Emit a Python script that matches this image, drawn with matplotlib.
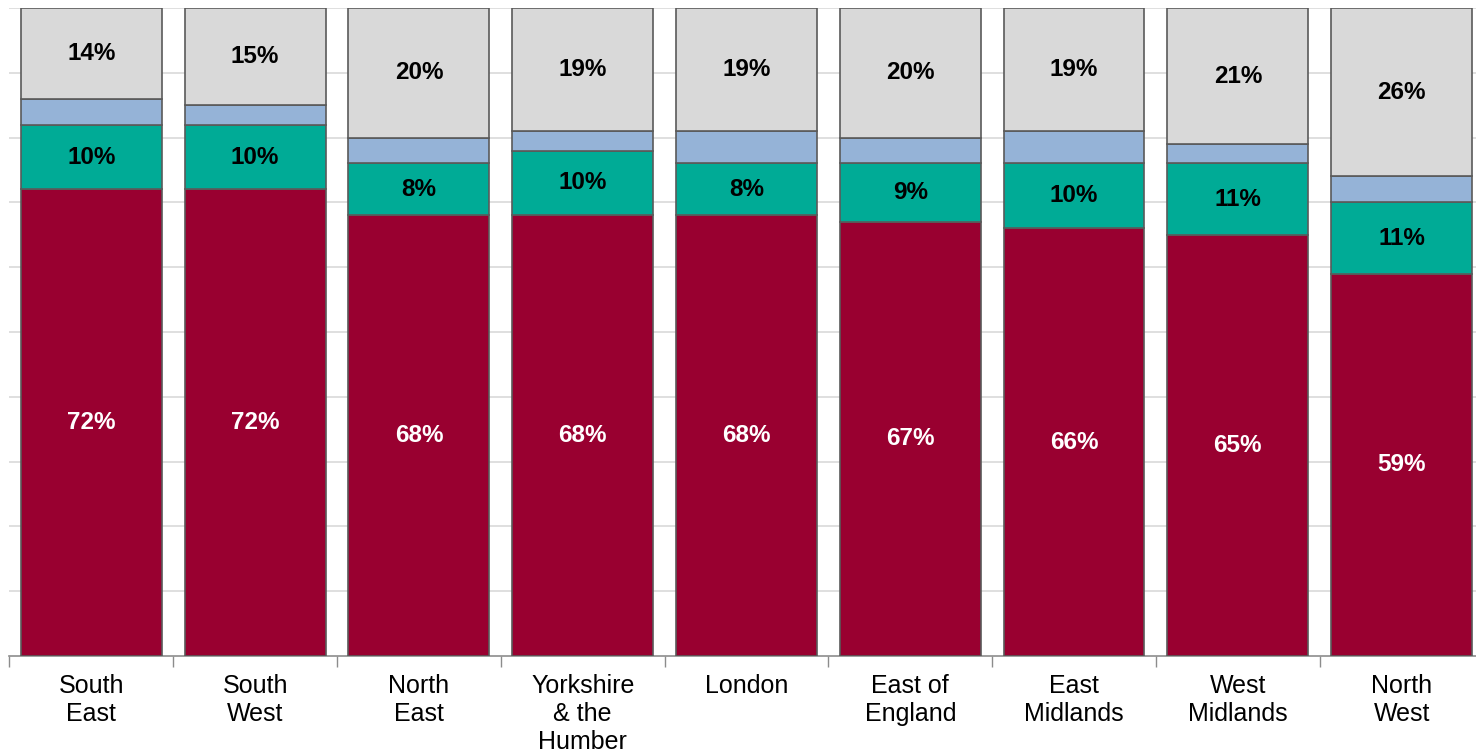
import matplotlib.pyplot as plt
from matplotlib import font_manager
import numpy as np

# keep the regular-width Liberation Sans (drop the Narrow faces so they are never picked)
font_manager.fontManager.ttflist = [f for f in font_manager.fontManager.ttflist
                                    if 'Narrow' not in f.fname]
plt.rcParams['font.family'] = ['Liberation Sans', 'DejaVu Sans']

regions = ['South\nEast', 'South\nWest', 'North\nEast', 'Yorkshire\n& the\nHumber', 'London',
           'East of\nEngland', 'East\nMidlands', 'West\nMidlands', 'North\nWest']
red_vals = [72, 72, 68, 68, 68, 67, 66, 65, 59]
teal_vals = [10, 10, 8, 10, 8, 9, 10, 11, 11]
blue_vals = [4, 3, 4, 3, 5, 4, 5, 3, 4]
grey_vals = [14, 15, 20, 19, 19, 20, 19, 21, 26]

colors = ['#990030', '#00AB96', '#95B3D7', '#D9D9D9']
text_colors = ['white', 'black', None, 'black']

fig = plt.figure(figsize=(14.76, 7.52), dpi=100)
ax = fig.add_axes([0.0064, 0.1277, 0.9987, 0.8617])

x = np.arange(len(regions))
bottom = np.zeros(len(regions))
for vals, col, tcol in zip([red_vals, teal_vals, blue_vals, grey_vals], colors, text_colors):
    vals = np.array(vals, dtype=float)
    ax.bar(x, vals, 0.86, bottom=bottom, color=col, edgecolor='#5a5a5a', linewidth=1.2, zorder=3)
    if tcol is not None:
        for xi, b, v in zip(x, bottom, vals):
            ax.text(xi, b + v / 2, f'{v:.0f}%', ha='center', va='center',
                    color=tcol, fontsize=17.5, fontweight='bold', zorder=4)
    bottom += vals

ax.set_xlim(-0.5, len(regions) - 0.5)
ax.set_ylim(0, 100)
ax.set_yticks(np.arange(10, 101, 10))
ax.yaxis.grid(True, color='#d9d9d9', linewidth=1.2, zorder=0)
ax.tick_params(axis='y', length=0, labelleft=False)

ax.set_xticks(x)
ax.set_xticklabels(regions, fontsize=18, linespacing=1.2, va='top')
ax.set_xticks(np.arange(-0.5, len(regions), 1), minor=True)
ax.tick_params(axis='x', which='major', length=0, pad=13)
ax.tick_params(axis='x', which='minor', length=8, color='#8c8c8c', width=1)

for side in ['left', 'right', 'top']:
    ax.spines[side].set_visible(False)
ax.spines['bottom'].set_color('#8c8c8c')
ax.spines['bottom'].set_linewidth(1.2)

fig.savefig('out.png', dpi=100)
